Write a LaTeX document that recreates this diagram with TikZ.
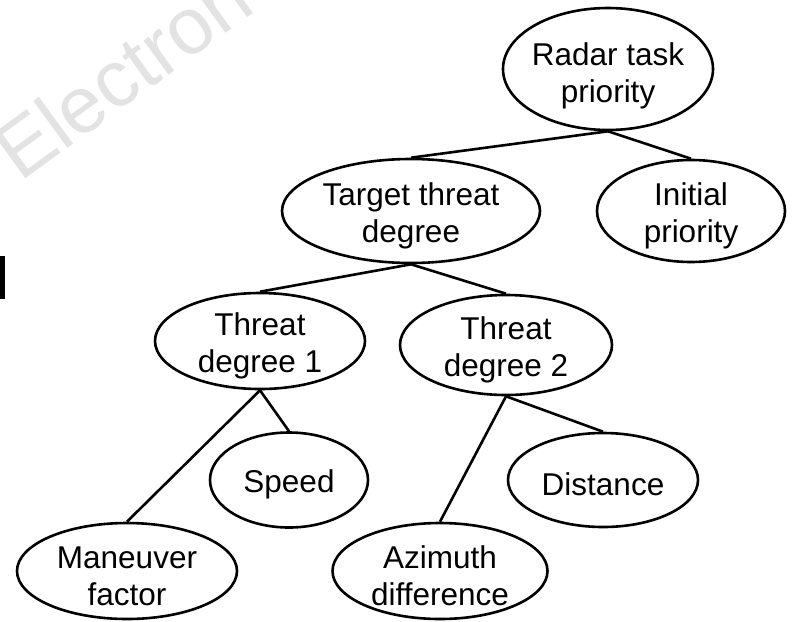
\documentclass[tikz,border=0pt]{standalone}
\usepackage{fontspec}
\setmainfont{Liberation Sans}
\usetikzlibrary{shapes.geometric}
\begin{document}
\begin{tikzpicture}[x=1pt,y=-1pt,
  oval/.style={ellipse,draw=black,line width=2.6pt,inner sep=0pt},
  lbl/.style={inner sep=0pt,align=center,font=\fontsize{31.5}{37}\selectfont},
  link/.style={draw=black,line width=2.6pt}]
\useasboundingbox (0,0) rectangle (792,621);
\fill[white] (0,0) rectangle (792,621);
% watermark
\node[rotate=36,anchor=base west,text=black!11,inner sep=0pt,
  font=\fontsize{80}{86}\selectfont] (wm) at (20,183) {Electron L};
% black mark at left edge
\fill[black] (0,256) rectangle (5,299);
% nodes
\node[oval,minimum width=210pt,minimum height=122pt] (radar) at (608,69) {};
\node[oval,minimum width=258pt,minimum height=104pt] (target) at (411,211) {};
\node[oval,minimum width=188pt,minimum height=102pt] (initial) at (691,211) {};
\node[oval,minimum width=210pt,minimum height=96pt] (td1) at (260,341) {};
\node[oval,minimum width=212pt,minimum height=100pt] (td2) at (506,345) {};
\node[oval,minimum width=158pt,minimum height=95pt] (speed) at (289,480) {};
\node[oval,minimum width=190pt,minimum height=94pt] (dist) at (603,480) {};
\node[oval,minimum width=220pt,minimum height=96pt] (man) at (127,571) {};
\node[oval,minimum width=215pt,minimum height=96pt] (azi) at (440,571) {};
% texts
\node[lbl] (radarT) at ([yshift=-7pt]radar.center) {Radar task\\priority};
\node[lbl] (targetT) at ([yshift=-5pt]target.center) {Target threat\\degree};
\node[lbl] (initialT) at ([yshift=-5pt]initial.center) {Initial\\priority};
\node[lbl] (td1T) at ([yshift=-5pt]td1.center) {Threat\\degree 1};
\node[lbl] (td2T) at ([yshift=-5pt]td2.center) {Threat\\degree 2};
\node[lbl] (speedT) at ([yshift=-4pt]speed.center) {Speed};
\node[lbl] (distT) at ([yshift=-4pt]dist.center) {Distance};
\node[lbl] (manT) at ([yshift=-5pt]man.center) {Maneuver\\factor};
\node[lbl] (aziT) at ([yshift=-5pt]azi.center) {Azimuth\\difference};
% connectors
\draw[link] (radar.south) -- (target.north);
\draw[link] (radar.south) -- (initial.north);
\draw[link] (target.south) -- (td1.north);
\draw[link] (target.south) -- (td2.north);
\draw[link] (td1.south) -- (man.north);
\draw[link] (td1.south) -- (speed.north);
\draw[link] (td2.south) -- (azi.north);
\draw[link] (td2.south) -- (dist.north);
\end{tikzpicture}
\end{document}
